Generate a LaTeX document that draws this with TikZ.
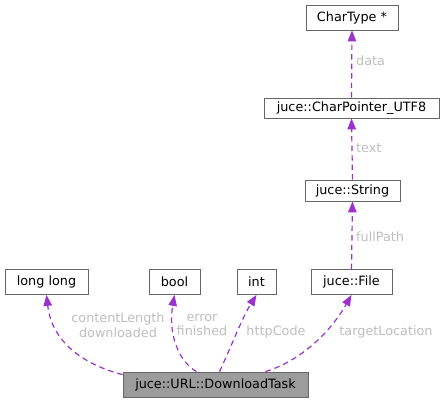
\documentclass[tikz,border=0pt]{standalone}
\usepackage{fontspec}
\setmainfont{DejaVu Sans}
\usetikzlibrary{arrows.meta}
\definecolor{edgec}{HTML}{9A32CD}
\definecolor{labc}{HTML}{BEBEBE}
\definecolor{boxc}{HTML}{666666}
\begin{document}
\begin{tikzpicture}[x=1pt,y=1pt,
  box/.style={draw=boxc,fill=white,line width=0.8pt,inner sep=0pt,minimum height=25pt,font=\fontsize{12.8}{14.5}\selectfont},
  rel/.style={draw=edgec,line width=1.2pt,dash pattern=on 5.5pt off 4pt,-{Triangle[length=11pt,width=8.5pt]}},
  lab/.style={text=labc,font=\fontsize{12.8}{14.5}\selectfont,align=center,inner sep=0pt}]
\useasboundingbox (0,0) rectangle (445,403);
\node[box,minimum width=92pt] (ct) at (352,385.5) {CharType *};
\node[box,minimum width=175pt,minimum height=20pt] (cp) at (351.5,295) {juce::CharPointer\_UTF8};
\node[box,minimum width=95pt,minimum height=21pt] (str) at (352.5,212.5) {juce::String};
\node[box,minimum width=81pt] (file) at (351.5,121) {juce::File};
\node[box,minimum width=39pt] (int) at (256.5,121) {int};
\node[box,minimum width=51pt] (bool) at (174.5,121) {bool};
\node[box,minimum width=83pt] (ll) at (46.5,121) {long long};
\node[box,fill=boxc!65,minimum width=185pt] (task) at (215.5,18.5) {juce::URL::DownloadTask};
\draw[rel] (cp.north) -- (ct.south);
\draw[rel] (str.north) -- (cp.south);
\draw[rel] (file.north) -- (str.south);
\draw[rel] ([yshift=-3pt]task.north west) .. controls (85,38) and (52,60) .. (ll.south);
\draw[rel] ([xshift=-19pt]task.north) .. controls (178,42) and (168,70) .. (bool.south);
\draw[rel] ([xshift=4pt]task.north) .. controls (232,58) and (242,85) .. (int.south);
\draw[rel] ([xshift=50pt]task.north) .. controls (300,42) and (330,70) .. (file.south);
\node[lab,anchor=west] (l1) at (356,342) {data};
\node[lab,anchor=west] (l2) at (356,255) {text};
\node[lab,anchor=west] (l3) at (356,166) {fullPath};
\node[lab] (l4) at (118,78) {contentLength\\downloaded};
\node[lab] (l5) at (202,78) {error\\finished};
\node[lab] (l6) at (276,71) {httpCode};
\node[lab] (l7) at (386,71) {targetLocation};
\end{tikzpicture}
\end{document}
